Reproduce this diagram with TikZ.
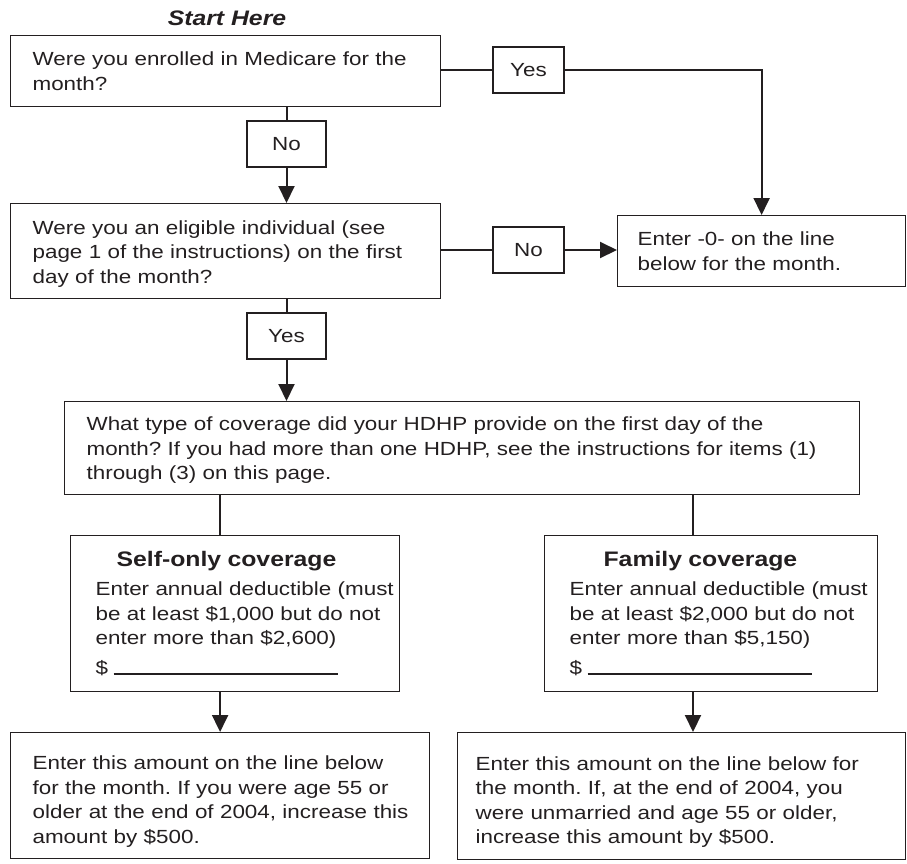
\documentclass[tikz,border=0pt]{standalone}
\usepackage{fontspec}
\setmainfont{Liberation Sans}[FakeStretch=1.18]
\usetikzlibrary{arrows.meta,calc}
\definecolor{ink}{RGB}{35,31,32}
\frenchspacing
\newcommand\bodyfont{\fontsize{19pt}{24.5pt}\selectfont}
\newcommand\headfont{\fontsize{21pt}{24.5pt}\selectfont\bfseries}
\newcommand\topstrut[1]{\rule{0pt}{#1}}
\tikzset{
  tbox/.style n args={3}{draw=ink, text=ink, line width=1.2pt, anchor=north west,
    inner xsep=0pt, inner ysep=0pt, text width=#1, minimum height=#2,
    align=left, font=\bodyfont, execute at begin node={\leftskip=#3\relax}},
  lblbox/.style={draw=ink, text=ink, line width=1.2pt, minimum width=#1,
    minimum height=46pt, inner sep=0pt, font=\bodyfont},
  conn/.style={draw=ink, line width=2pt},
  arr/.style={conn, -{Triangle[width=16pt,length=17pt]}},
}
\begin{document}
\begin{tikzpicture}[x=1pt,y=-1pt]
\useasboundingbox (0,0) rectangle (907,863);
\node[text=ink, font=\fontsize{21pt}{21pt}\selectfont\bfseries\itshape, anchor=base] (start) at (227,25) {Start Here};
% main boxes
\node[tbox={430pt}{71pt}{22pt}] (b1) at (10,35) {Were you enrolled in Medicare for the\\month?};
\node[tbox={430pt}{95pt}{22pt}] (b2) at (10,203) {\topstrut{19pt}Were you an eligible individual (see\\page 1 of the instructions) on the first\\day of the month?};
\node[tbox={288pt}{71pt}{20pt}] (zero) at (617,215) {Enter -0- on the line\\below for the month.};
\node[tbox={795pt}{93pt}{22pt}] (b3) at (64,401) {\topstrut{18pt}What type of coverage did your HDHP provide on the first day of the\\month? If you had more than one HDHP, see the instructions for items (1)\\through (3) on this page.};
\node[tbox={329pt}{156pt}{25pt}] (self) at (70,535) {{\headfont\hspace*{21pt}Self-only coverage}\\[4.5pt]Enter annual deductible (must\\be at least \$1,000 but do not\\enter more than \$2,600)\\[5.5pt]\$\hspace{5.5pt}\rule{224pt}{1.3pt}};
\node[tbox={333pt}{156pt}{25pt}] (fam) at (544,535) {{\headfont\hspace*{34pt}Family coverage}\\[4.5pt]Enter annual deductible (must\\be at least \$2,000 but do not\\enter more than \$5,150)\\[5.5pt]\$\hspace{5.5pt}\rule{224pt}{1.3pt}};
\node[tbox={419pt}{126pt}{22pt}] (bl) at (10,732) {\topstrut{26pt}Enter this amount on the line below\\for the month. If you were age 55 or\\older at the end of 2004, increase this\\amount by \$500.};
\node[tbox={448pt}{127pt}{18pt}] (br) at (457,732) {\topstrut{26pt}Enter this amount on the line below for\\the month. If, at the end of 2004, you\\were unmarried and age 55 or older,\\increase this amount by \$500.};
% label boxes
\node[lblbox=71pt] (yes1) at (528.5,70) {Yes};
\node[lblbox=79pt] (no1) at (286.5,144) {No};
\node[lblbox=71pt] (no2) at (528.5,250) {No};
\node[lblbox=79pt] (yes2) at (286.5,336) {Yes};
\coordinate (rx) at (693,0);
% connectors
\draw[conn] (b1.east |- yes1.west) -- (yes1.west);
\draw[arr] (yes1.east) -| (zero.north);
\draw[conn] (b1.south -| no1.north) -- (no1.north);
\draw[arr] (no1.south) -- (b2.north -| no1.south);
\draw[conn] (b2.east |- no2.west) -- (no2.west);
\draw[arr] (no2.east) -- (zero.west |- no2.east);
\draw[conn] (b2.south -| yes2.north) -- (yes2.north);
\draw[arr] (yes2.south) -- (b3.north -| yes2.south);
\draw[conn] (b3.south -| bl.north) -- (self.north -| bl.north);
\draw[arr] (self.south -| bl.north) -- (bl.north);
\draw[conn] (b3.south -| rx) -- (fam.north -| rx);
\draw[arr] (fam.south -| rx) -- (br.north -| rx);
\end{tikzpicture}
\end{document}
